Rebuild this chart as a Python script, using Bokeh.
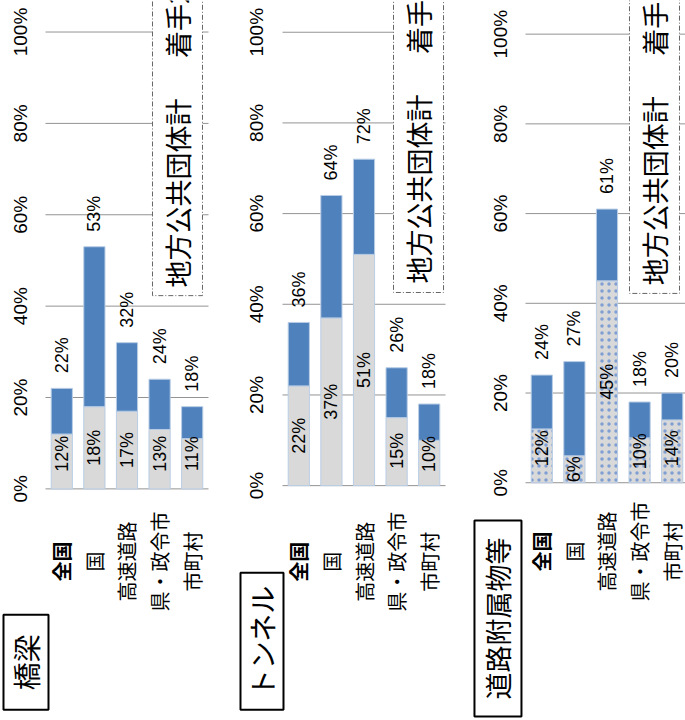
import numpy as np
from math import pi
from bokeh.plotting import figure
from bokeh.layouts import row
from bokeh.models import Range1d, FixedTicker, PrintfTickFormatter, ColumnDataSource
from bokeh.core.properties import value
from bokeh.embed import file_html
from bokeh.resources import INLINE

# ---------------- data ----------------
categories = ["全国", "国", "高速道路", "県・政令市", "市町村"]
category_styles = ["bold", "normal", "normal", "normal", "normal"]
y_ticks = [0, 20, 40, 60, 80, 100]

panel_titles = ["橋梁", "トンネル", "道路附属物等"]
bridge_total = [22, 53, 32, 24, 18]
bridge_done = [12, 18, 17, 13, 11]
tunnel_total = [36, 64, 72, 26, 18]
tunnel_done = [22, 37, 51, 15, 10]
facility_total = [24, 27, 61, 18, 20]
facility_done = [12, 6, 45, 10, 14]
local_gov_notes = ["地方公共団体計\u3000\u2002着手20%",
                   "地方公共団体計\u3000\u2002着手23%",
                   "地方公共団体計\u3000\u2002着手19%"]

BLUE = "#4F81BD"
GRAY = "#D9D9D9"
EDGE = "#B9CDE5"
GRID = "#939393"
NUM_FONT = "Liberation Sans"
JP_FONT = "Noto Sans CJK JP"

# ---------------- layout (positions only) ----------------
layouts = [
    dict(width=230, x=(-1.880, 5.175), y=(-50.7, 106.9), grid_end=4.5, cat_y=-15.9,
         title=(-1.098, -37.93), tw=45, th=95, tsize="28px",
         box=(2.782, 4.316, 42.3), note=(3.549, 44.1), standoff=14, hatch=False),
    dict(width=235, x=(-2.095, 5.113), y=(-51.8, 107.0), grid_end=4.5, cat_y=-16.8,
         title=(-1.129, -34.3), tw=43, th=137, tsize="28px",
         box=(2.905, 4.439, 42.6), note=(3.672, 44.6), standoff=15, hatch=False),
    dict(width=220, x=(-2.340, 4.408), y=(-53.0, 107.5), grid_end=4.5, cat_y=-15.3,
         title=(-1.344, -30.25), tw=47, th=196, tsize="27px",
         box=(2.69, 4.224, 42.2), note=(3.457, 44.0), standoff=14, hatch=True),
]
totals = [bridge_total, tunnel_total, facility_total]
dones = [bridge_done, tunnel_done, facility_done]


def make_panel(title, total, done, note, L):
    idx = np.arange(len(categories))
    total = np.array(total, dtype=float)
    done = np.array(done, dtype=float)
    p = figure(width=L["width"], height=720, title=None, toolbar_location=None,
               output_backend="svg", x_axis_location=None,
               x_range=Range1d(*L["x"]), y_range=Range1d(*L["y"]),
               min_border_left=0, min_border_right=0,
               min_border_top=0, min_border_bottom=0)
    p.outline_line_color = None
    p.background_fill_color = "white"
    p.border_fill_color = "white"
    p.xgrid.visible = False
    p.ygrid.visible = False

    ax = p.yaxis[0]
    ax.fixed_location = -0.5
    ax.ticker = FixedTicker(ticks=y_ticks)
    ax.formatter = PrintfTickFormatter(format="%d%%")
    ax.major_label_orientation = "vertical"
    ax.axis_line_color = None
    ax.major_tick_line_color = None
    ax.minor_tick_line_color = None
    ax.major_tick_out = 0
    ax.major_tick_in = 0
    ax.major_label_standoff = L["standoff"]
    ax.major_label_text_font = NUM_FONT
    ax.major_label_text_font_size = "19px"
    ax.major_label_text_color = "black"

    # gridlines at the tick values, spanning the plotting area only
    n = len(y_ticks)
    p.segment(x0=[-0.5] * n, x1=[L["grid_end"]] * n, y0=y_ticks, y1=y_ticks,
              line_color=GRID, line_width=1)

    src = ColumnDataSource(dict(
        x=idx, total=total, done=done,
        top_txt=[f"{int(v)}%" for v in total],
        low_txt=[f"{int(v)}%" for v in done],
        low_y=np.maximum(done / 2, np.minimum(7.7, done - 3)),
        cat=categories, style=category_styles,
        cat_y=np.full(len(categories), L["cat_y"]),
    ))

    gray_kw = dict(fill_color=GRAY, line_color=EDGE, line_width=1)
    if L["hatch"]:
        gray_kw.update(hatch_pattern="dot", hatch_color="#7F9FD3",
                       hatch_scale=7, hatch_weight=1.2)
    p.vbar(x="x", bottom=0, top="done", width=0.65, source=src, **gray_kw)
    p.vbar(x="x", bottom="done", top="total", width=0.65, source=src,
           fill_color=BLUE, line_color=EDGE, line_width=1)

    p.text(x="x", y="total", text="top_txt", source=src, angle=pi / 2,
           text_align="left", text_baseline="middle", y_offset=-15,
           text_font=value(NUM_FONT), text_font_size="18px", text_color="black")
    p.text(x="x", y="low_y", text="low_txt", source=src, angle=pi / 2,
           text_align="center", text_baseline="middle",
           text_font=value(NUM_FONT), text_font_size="18px", text_color="black")
    p.text(x="x", y="cat_y", text="cat", source=src, angle=pi / 2,
           text_align="center", text_baseline="middle", text_font_style="style",
           text_font=value(JP_FONT), text_font_size="20px", text_color="black")

    # dash-dot note box (white, covers gridlines), open towards the top
    bl, br, bb = L["box"]
    p.quad(left=[bl], right=[br], bottom=[bb], top=[L["y"][1] + 10],
           fill_color="white", line_color="#666666", line_width=1,
           line_dash="5 2 1 2")
    p.text(x=[L["note"][0]], y=[L["note"][1]], text=[note], angle=pi / 2,
           text_align="left", text_baseline="middle",
           text_font=value(JP_FONT), text_font_size="27px", text_color="black")

    # panel title box
    p.rect(x=[L["title"][0]], y=[L["title"][1]], width=L["tw"], height=L["th"],
           width_units="screen", height_units="screen",
           fill_color="white", line_color="black", line_width=2)
    p.text(x=[L["title"][0]], y=[L["title"][1]], text=[title], angle=pi / 2,
           text_align="center", text_baseline="middle",
           text_font=value(JP_FONT), text_font_size=L["tsize"], text_color="black")
    return p


panels = [make_panel(t, tot, d, n, L) for t, tot, d, n, L in
          zip(panel_titles, totals, dones, local_gov_notes, layouts)]
layout = row(*panels, spacing=0)
open("out.html", "w").write(file_html(layout, INLINE))
